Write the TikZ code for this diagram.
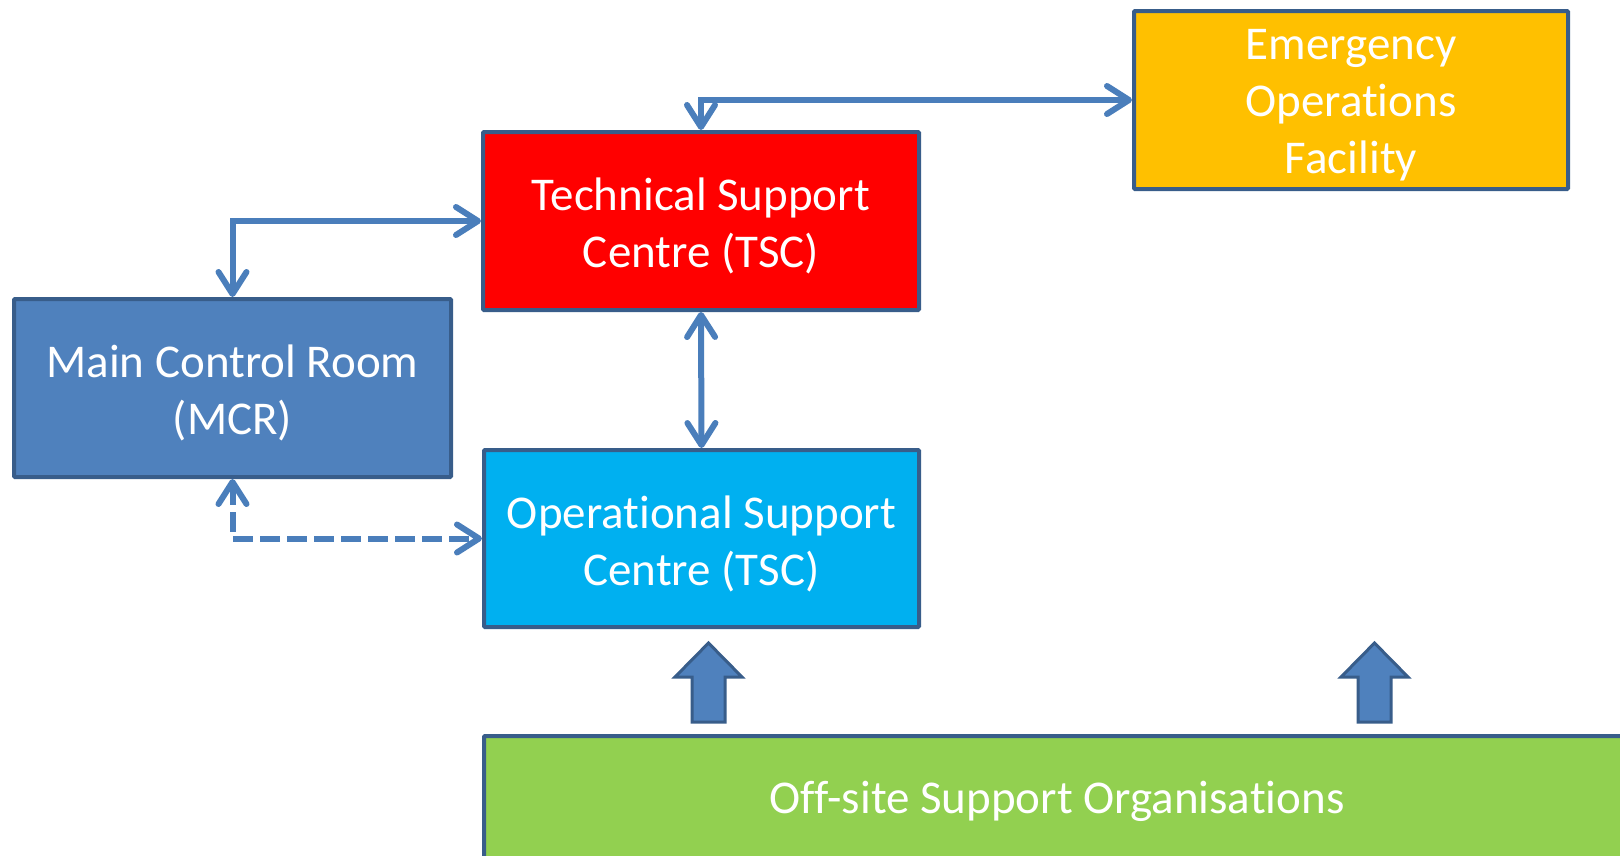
\documentclass[tikz,border=0pt]{standalone}
\usepackage{fontspec}
\setmainfont{Carlito}[Ligatures=NoCommon]
\usetikzlibrary{arrows.meta}
\definecolor{linkblue}{HTML}{4A7EBB}
\definecolor{edgeblue}{HTML}{385D8A}
\definecolor{mcrfill}{HTML}{4F81BD}
\definecolor{tscfill}{HTML}{FF0000}
\definecolor{oscfill}{HTML}{00B0F0}
\definecolor{eoffill}{HTML}{FFC000}
\definecolor{offfill}{HTML}{92D050}
\tikzset{
  box/.style={draw=edgeblue, line width=4pt, rounded corners=1pt, inner sep=0pt},
  lbl/.style={text=white, align=center, font=\fontsize{47}{57}\selectfont, inner sep=0pt},
  link/.style={draw=linkblue, line width=6pt,
    {Straight Barb[length=22pt,width=28pt,round]}-{Straight Barb[length=22pt,width=28pt,round]}},
  blockarrow/.style={draw=edgeblue, fill=mcrfill, line width=3pt, line join=miter},
}
\begin{document}
\begin{tikzpicture}[x=1pt,y=-1pt]
\useasboundingbox (0,0) rectangle (1620,855);
\node[box, fill=mcrfill, minimum width=437pt, minimum height=178pt] (mcr) at (232.5,388) {};
\node[box, fill=tscfill, minimum width=436pt, minimum height=178pt] (tsc) at (701,221) {};
\node[box, fill=oscfill, minimum width=435pt, minimum height=177pt] (osc) at (701.5,538.5) {};
\node[box, fill=eoffill, minimum width=434pt, minimum height=178pt] (eof) at (1351,100) {};
\node[box, fill=offfill, minimum width=1146pt, minimum height=124pt] (off) at (1057,798) {};

\node[lbl] (mcrtext) at ([yshift=-5pt]mcr.center) {Main Control Room\\(MCR)};
\node[lbl] (tsctext) at ([yshift=-5pt]tsc.center) {Technical Support\\Centre (TSC)};
\node[lbl] (osctext) at ([yshift=-5pt]osc.center) {Operational Support\\Centre (TSC)};
\node[lbl] (eoftext) at ([yshift=-5pt]eof.center) {Emergency\\Operations\\Facility};
\node[lbl] (offtext) at ([yshift=-3pt]off.center) {Off-site Support Organisations};

\draw[link] (mcr.north) |- (tsc.west);
\draw[link] (tsc.north) |- (eof.west);
\draw[link] (tsc.south) -- (osc.north);
\draw[link, dash pattern=on 20pt off 7pt] (mcr.south) |- (osc.west);

\draw[blockarrow] (692,722) -- (692,677) -- (675,677) -- (708.5,643) -- (742,677) -- (725,677) -- (725,722) -- cycle;
\draw[blockarrow] (1358,722) -- (1358,677) -- (1341,677) -- (1374.5,643) -- (1408,677) -- (1391,677) -- (1391,722) -- cycle;
\end{tikzpicture}
\end{document}
